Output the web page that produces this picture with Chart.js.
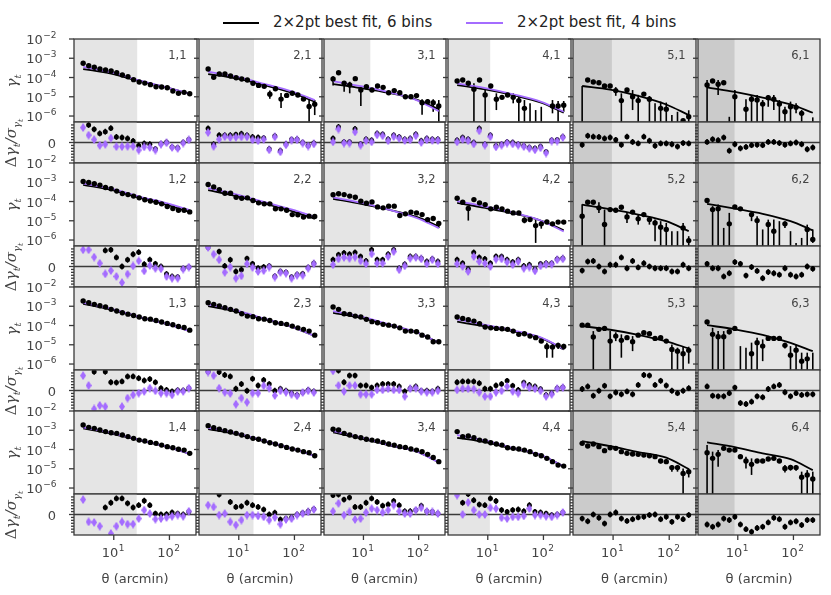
<!DOCTYPE html>
<html>
<head>
<meta charset="utf-8">
<script src="https://cdn.jsdelivr.net/npm/chart.js@4.4.0/dist/chart.umd.min.js"></script>
<style>
html, body { margin: 0; padding: 0; background: #fff; }
#fig { position: relative; width: 831px; height: 595px; overflow: hidden; font-family: "DejaVu Sans", sans-serif; color: #222; }
#fig canvas { position: absolute; }
.ylab { position: absolute; transform: translate(-50%, -50%) rotate(-90deg); white-space: nowrap; font: italic 15px "DejaVu Serif", serif; color: #444; }
.ylab sub { font-size: 10px; }
.leg-line { position: absolute; height: 2px; }
.leg-text { position: absolute; font-size: 15px; line-height: 20px; white-space: nowrap; color: #222; }
</style>
</head>
<body>
<div id="fig">
  <div class="leg-line" style="left:223px; top:21.5px; width:36px; background:#000;"></div>
  <div class="leg-text" style="left:273px; top:12px;">2×2pt best fit, 6 bins</div>
  <div class="leg-line" style="left:466px; top:21.5px; width:37px; background:#a46cff;"></div>
  <div class="leg-text" style="left:517px; top:12px;">2×2pt best fit, 4 bins</div>
</div>
<script>
// angular bins (arcmin), shared by every panel
const theta = [2.81, 3.53, 4.44, 5.59, 7.04, 8.86, 11.15, 14.04, 17.68, 22.25, 28.01, 35.27, 44.4, 55.9, 70.37, 88.59, 111.5, 140.4, 176.8, 222.5];
const modelTheta = [2.81, 8.86, 28.01, 88.59, 222.5];
const gammaTicks = [1e-2, 1e-3, 1e-4, 1e-5, 1e-6];
const gammaTickExp = ['−2', '−3', '−4', '−5', '−6'];
const thetaTicks = [10, 100];
const thetaTickExp = ['1', '2'];
// scale cut per lens bin (column)
const scaleCut = [25.8, 18.4, 13.1, 10.9, 9.5, 8.75];
const panelNames = ['1,1', '2,1', '3,1', '4,1', '5,1', '6,1',
                    '1,2', '2,2', '3,2', '4,2', '5,2', '6,2',
                    '1,3', '2,3', '3,3', '4,3', '5,3', '6,3',
                    '1,4', '2,4', '3,4', '4,4', '5,4', '6,4'];

// log10(gamma_t), null = negative (no marker)
const gammaLog = [
  [-3.26,-3.39,-3.47,-3.56,-3.61,-3.66,-3.75,-3.87,-3.96,-4.11,-4.23,-4.29,-4.37,-4.48,-4.49,-4.53,-4.70,-4.82,-4.77,-4.84],
  [-3.56,-3.99,-3.82,-3.82,-3.92,-4.01,-4.08,-4.13,-4.30,-4.41,-4.46,-4.87,-4.58,-5.12,-4.93,-4.82,-4.91,-5.12,-5.50,-5.39],
  [-4.08,-3.75,-4.30,-4.39,-4.06,-4.65,-4.48,-4.65,-4.44,-4.51,-4.79,-4.68,-4.79,-5.00,-5.00,-4.94,-5.31,-5.26,-5.31,-5.48],
  [-4.18,-4.13,-4.30,-4.61,-4.13,-4.91,-4.44,-5.13,-5.03,-4.91,-5.03,-5.20,-5.60,null,null,null,null,-5.48,-5.48,-5.44],
  [null,-4.13,-4.23,-4.27,-4.44,-4.44,-4.68,-5.20,-4.65,-5.00,-5.20,-4.86,-5.13,null,-5.60,-5.65,null,null,-6.24,-6.04],
  [-4.39,-4.18,-4.35,-4.27,null,-5.00,null,-5.65,-5.13,-5.17,-5.38,-5.05,-5.13,-5.38,-5.78,-5.52,-5.55,-5.86,null,null],
  [-2.96,-3.01,-3.08,-3.15,-3.27,-3.34,-3.46,-3.58,-3.64,-3.72,-3.81,-3.91,-3.97,-4.04,-4.12,-4.26,-4.36,-4.45,-4.45,-4.54],
  [-3.12,-3.24,-3.38,-3.57,-3.57,-3.78,-3.83,-3.81,-3.95,-4.07,-4.12,-4.12,-4.38,-4.38,-4.45,-4.68,-4.69,-4.81,-4.76,-4.78],
  [-3.65,-3.60,-3.64,-3.72,-3.78,-3.98,-4.09,-4.02,-4.28,-4.33,-4.24,-4.24,-4.73,-4.64,-4.55,-4.59,-4.68,-4.94,-4.88,-5.14],
  [-3.83,-4.04,-4.36,-3.90,-4.07,-4.16,-4.38,-4.30,-4.38,-4.50,-4.59,-4.59,-4.97,-4.94,-5.25,-5.16,-5.06,-5.16,-5.07,-5.07],
  [-4.76,-4.04,-4.04,-4.33,-5.19,-4.42,-4.45,-4.30,-4.80,-4.55,-4.90,-4.68,-4.94,-5.11,-5.33,-5.45,null,null,-5.37,-6.03],
  [-3.95,-4.42,-4.38,null,-5.16,-4.28,-4.38,null,-4.68,-4.99,null,-5.19,-5.54,null,-5.16,null,null,null,-5.45,-5.97],
  [-2.73,-2.82,-2.90,-2.97,-3.04,-3.16,-3.25,-3.34,-3.41,-3.48,-3.56,-3.65,-3.67,-3.74,-3.82,-3.89,-3.96,-4.05,-4.10,-4.24],
  [-2.82,-2.90,-2.99,-3.08,-3.16,-3.25,-3.39,-3.51,-3.54,-3.65,-3.67,-3.74,-3.86,-3.89,-3.94,-4.03,-4.12,-4.20,-4.29,-4.50],
  [-3.04,-3.16,-3.39,-3.42,-3.51,-3.56,-3.68,-3.80,-3.86,-3.94,-3.98,-4.03,-4.12,-4.29,-4.29,-4.32,-4.50,-4.60,-4.84,-4.84],
  [-3.56,-3.63,-3.70,-3.77,-3.91,-4.08,-4.12,-4.15,-4.17,-4.20,-4.29,-4.46,-4.43,-4.55,-4.63,-4.81,-5.10,-5.12,-5.03,-5.09],
  [-3.98,-3.98,-4.60,-4.20,-4.15,-4.81,-4.55,-4.77,-4.63,-4.84,-4.50,-4.37,-4.43,-4.67,-4.63,-4.81,-5.24,-5.33,-5.47,-5.29],
  [-3.82,-4.46,-4.58,-4.58,-4.32,-4.15,null,null,-5.47,-4.89,-5.07,-4.67,-4.67,-4.67,-5.03,-5.54,-5.28,-5.85,-5.73,null],
  [-2.73,-2.85,-2.90,-2.99,-3.07,-3.13,-3.16,-3.25,-3.33,-3.42,-3.51,-3.56,-3.63,-3.68,-3.77,-3.85,-3.91,-3.99,-4.03,-4.20],
  [-2.76,-2.87,-2.95,-3.02,-3.09,-3.16,-3.25,-3.33,-3.42,-3.47,-3.56,-3.65,-3.71,-3.80,-3.89,-3.97,-4.03,-4.11,-4.17,-4.32],
  [-2.95,-2.99,-3.16,-3.25,-3.33,-3.39,-3.47,-3.51,-3.56,-3.63,-3.71,-3.77,-3.85,-3.89,-3.97,-4.03,-4.11,-4.25,-4.41,-4.63],
  [-3.07,-3.33,-3.30,-3.39,-3.51,-3.56,-3.65,-3.71,-3.77,-3.91,-3.94,-3.97,-4.03,-4.11,-4.25,-4.32,-4.46,-4.63,-4.81,-4.86],
  [-3.68,-3.82,-3.71,-3.85,-4.06,-3.91,-3.94,-4.11,-4.20,-4.23,-4.25,-4.29,-4.32,-4.37,-4.60,-4.63,-4.94,-4.94,-5.24,-5.15],
  [-4.17,-4.46,-4.25,-3.94,-4.03,-4.03,-4.37,-4.60,-4.77,-4.60,-4.60,-4.49,-4.46,-4.60,-4.98,-4.93,-4.94,-5.44,-5.32,-5.53]
];

// visible error bars: [bin, log10 upper end, log10 lower end (null = below axis)]
const errorBars = [
  [],
  [[11,-4.68,-5.10],[13,-4.80,-5.58],[18,-5.17,null],[19,-5.17,-5.95]],
  [[0,-3.93,-4.42],[2,-4.19,-4.74],[3,-4.22,-4.82],[5,-4.44,-5.48],[16,-5.13,-5.94],[17,-5.12,-5.45],[18,-5.13,-5.78],[19,-5.17,null]],
  [[3,-4.30,null],[5,-4.65,null],[7,-4.82,-5.69],[10,-4.82,-5.34],[11,-4.99,null],[12,-5.17,null],[13,-5.34,null],[14,-5.69,null],[15,-5.52,null],[17,-5.17,-5.86],[18,-5.22,null],[19,-5.22,-5.78]],
  [[0,-4.44,null],[6,-4.50,-4.95],[7,-4.82,null],[9,-4.65,-5.69],[10,-4.90,null],[12,-4.96,null],[13,-5.34,null],[14,-5.25,null],[15,-5.30,null],[16,-5.95,null],[17,-5.78,null],[19,-5.70,null]],
  [[0,-4.13,null],[2,-4.13,-4.91],[4,-6.04,null],[5,-4.65,null],[7,-5.13,null],[8,-4.91,null],[9,-4.91,null],[10,-5.17,null],[11,-4.91,-5.52],[12,-4.91,-5.69],[13,-5.17,null],[14,-5.52,null],[15,-5.25,null],[16,-5.34,-5.86],[17,-5.69,null],[19,-6.07,null]],
  [],
  [],
  [[12,-4.62,-4.86],[19,-5.04,-5.38]],
  [[2,-4.24,-4.99],[12,-4.82,-5.13],[14,-4.94,-6.15],[15,-4.97,-5.41]],
  [[0,-4.14,null],[3,-4.04,-4.59],[4,-4.42,null],[8,-4.59,-5.11],[10,-4.68,-5.20],[12,-4.76,-5.20],[13,-4.94,-6.06],[14,-5.02,null],[15,-5.11,null],[16,-5.54,null],[17,-5.54,null],[18,-5.11,null],[19,-5.80,null]],
  [[1,-4.24,null],[2,-4.16,null],[3,-5.37,null],[4,-4.59,null],[8,-4.50,-5.02],[9,-4.76,null],[10,-5.45,null],[11,-4.94,null],[12,-4.94,null],[13,-5.02,null],[14,-5.02,-5.37],[15,-5.54,null],[16,-6.15,null],[17,-5.89,null],[18,-5.20,null],[19,-5.45,-6.15]],
  [],
  [],
  [],
  [[16,-4.89,-5.67],[17,-4.89,-5.67],[18,-4.89,-5.22],[19,-4.95,-5.25]],
  [[2,-4.29,null],[5,-4.29,null],[6,-4.35,-4.81],[7,-4.46,-5.67],[9,-4.55,-5.33],[16,-4.98,null],[17,-5.15,null],[18,-5.07,null],[19,-5.10,-5.98]],
  [[1,-4.12,null],[2,-4.29,null],[3,-4.29,null],[4,-4.24,-4.46],[6,-5.07,null],[7,-5.15,null],[8,-4.89,null],[9,-4.63,null],[10,-4.72,-5.85],[14,-4.90,-5.20],[15,-5.07,null],[16,-4.98,null],[17,-5.41,null],[18,-5.41,null],[19,-5.41,null]],
  [],
  [],
  [],
  [],
  [[1,-3.75,-3.90],[14,-4.50,-4.72],[15,-4.52,-4.75],[16,-4.80,-5.15],[17,-4.80,-5.15],[18,-4.98,null],[19,-4.98,-5.45]],
  [[0,-3.77,null],[1,-4.11,null],[2,-4.03,-4.89],[6,-4.25,-4.50],[7,-4.37,-4.98],[8,-4.46,-5.32],[14,-4.80,-5.20],[15,-4.80,-5.10],[16,-4.80,-5.10],[17,-5.15,null],[18,-5.07,null],[19,-5.15,null]]
];

// best-fit model curves, log10(gamma_t) at modelTheta
const model6Log = [
  [-3.56,-3.80,-4.18,-4.53,-4.85], [-3.82,-4.05,-4.40,-4.80,-5.26], [-4.34,-4.55,-4.80,-5.15,-5.65],
  [-4.39,-4.62,-4.92,-5.30,-5.83], [-4.44,-4.63,-4.95,-5.40,-5.95], [-4.51,-4.75,-5.05,-5.40,-5.83],
  [-3.13,-3.40,-3.80,-4.18,-4.55], [-3.41,-3.72,-4.10,-4.50,-4.90], [-3.86,-4.12,-4.42,-4.80,-5.28],
  [-4.07,-4.33,-4.62,-5.00,-5.49], [-4.16,-4.40,-4.68,-5.02,-5.54], [-4.12,-4.37,-4.64,-5.02,-5.50],
  [-2.87,-3.18,-3.57,-3.93,-4.29], [-2.99,-3.28,-3.67,-4.08,-4.55], [-3.34,-3.60,-3.97,-4.36,-4.89],
  [-3.80,-4.05,-4.30,-4.65,-5.24], [-4.03,-4.22,-4.48,-4.82,-5.19], [-3.98,-4.20,-4.48,-4.90,-5.33],
  [-2.90,-3.17,-3.52,-3.86,-4.23], [-2.94,-3.20,-3.57,-3.95,-4.33], [-3.11,-3.42,-3.78,-4.10,-4.67],
  [-3.39,-3.62,-3.97,-4.30,-4.89], [-3.56,-3.83,-4.13,-4.42,-5.01], [-3.63,-3.88,-4.20,-4.50,-5.07]
];
const model4Log = [
  [-3.45,-3.72,-4.15,-4.52,-4.84], [-3.70,-3.96,-4.33,-4.73,-5.17], [-4.19,-4.45,-4.76,-5.17,-5.75],
  [-4.30,-4.55,-4.87,-5.26,-5.78], null, null,
  [-3.06,-3.33,-3.74,-4.10,-4.45], [-3.31,-3.63,-4.02,-4.42,-4.80], [-3.78,-4.06,-4.42,-4.85,-5.38],
  [-3.98,-4.26,-4.58,-5.00,-5.56], null, null,
  [-2.82,-3.13,-3.55,-3.93,-4.29], [-2.90,-3.22,-3.64,-4.07,-4.55], [-3.25,-3.53,-3.94,-4.35,-4.89],
  [-3.68,-3.97,-4.26,-4.63,-5.22], null, null,
  [-2.85,-3.13,-3.50,-3.86,-4.23], [-2.87,-3.15,-3.55,-3.95,-4.33], [-3.04,-3.37,-3.76,-4.10,-4.67],
  [-3.25,-3.53,-3.93,-4.29,-4.89], null, null
];

// residuals (data - model) / sigma, null = off the panel
const resid6 = [
  [null,6.0,4.5,3.1,3.7,4.9,1.9,1.7,1.4,0.5,-1.0,-0.3,-0.6,-2.2,-0.4,0.1,-1.5,-1.8,0.0,1.0],
  [4.8,-0.6,2.5,2.5,2.5,2.7,3.0,2.5,1.9,1.7,1.5,-2.2,2.2,-2.8,-0.5,1.0,1.1,0.0,-1.0,-0.2],
  [1.4,5.3,0.2,0.2,4.6,-0.5,1.1,0.8,3.1,2.8,1.1,2.5,1.9,1.1,1.4,2.8,0.6,1.4,1.1,1.1],
  [0.8,1.7,1.1,0.0,4.8,-0.6,2.5,-1.1,-0.6,0.2,0.0,-0.6,-1.1,-1.7,-2.0,-1.4,-3.2,0.8,0.9,2.0],
  [-0.8,2.3,2.0,1.9,1.4,1.7,0.9,-0.8,2.0,0.2,-0.3,2.0,0.6,-1.1,-0.3,-0.3,-0.6,-1.4,-0.2,-0.3],
  [0.2,1.1,0.8,1.7,-2.8,-0.6,-2.0,-1.5,-0.9,-0.8,-0.9,0.2,0.2,-0.2,-0.8,-0.3,0.0,-0.6,-2.3,-1.7],
  [null,null,null,null,5.5,5.7,3.1,0.0,2.3,4.2,4.9,0.8,2.3,0.9,0.0,-2.6,-3.4,-3.6,-0.7,-0.2],
  [6.6,null,5.1,0.2,2.3,-1.7,-1.1,2.7,0.9,-0.6,-0.2,0.2,-3.3,-1.7,-2.0,-3.6,-2.7,-2.5,-0.3,1.1],
  [2.3,4.0,4.6,4.2,4.8,3.4,1.9,5.7,2.3,2.3,4.2,5.7,-0.6,0.8,3.4,3.4,2.8,1.7,2.6,1.7],
  [2.3,1.1,-0.9,4.8,3.1,2.6,1.1,3.4,3.4,2.3,1.5,2.3,0.2,0.6,-0.9,0.9,1.1,1.1,2.6,2.8],
  [-1.4,1.7,1.9,0.0,-1.7,0.6,0.6,3.1,-0.6,1.9,-0.3,1.1,0.0,-0.6,-0.6,-0.6,-1.7,-1.7,0.6,-0.6],
  [0.9,-0.6,-0.6,-3.4,-2.3,1.5,0.9,-3.1,-0.2,-1.5,-4.0,-1.9,-2.3,-2.8,-0.6,-2.8,-3.4,-2.8,0.0,-0.8],
  [null,null,6.4,null,6.4,2.8,2.7,3.1,4.8,4.8,4.2,3.4,3.9,2.8,0.8,0.2,-0.3,0.1,0.0,0.8],
  [6.5,null,6.3,5.3,4.8,0.6,2.2,-0.1,4.0,1.7,3.6,2.2,-0.1,0.6,-0.1,-0.9,-1.5,-0.6,0.2,-0.3],
  [null,6.8,2.8,5.1,5.1,1.7,1.7,1.0,1.7,2.2,2.2,2.2,1.4,-0.3,0.8,1.4,-0.1,-0.1,-0.3,0.6],
  [2.8,3.1,3.1,3.1,2.5,0.6,0.6,1.7,2.2,3.3,1.6,0.2,2.7,1.9,1.4,0.5,-1.5,-0.9,0.8,1.1],
  [0.5,1.4,-1.8,-0.1,1.6,-2.0,-0.7,-1.3,-0.3,-1.3,1.9,5.3,5.1,1.9,3.3,1.7,-0.1,-0.9,-0.1,0.8],
  [1.4,-1.8,-2.0,-2.0,-0.9,1.0,-4.3,-4.6,-3.8,-2.0,-2.3,0.5,1.4,1.9,-0.6,-2.0,-0.9,-1.5,-1.3,-1.3],
  [null,null,null,null,2.4,4.0,5.5,5.5,3.8,2.4,3.2,4.7,3.2,0.3,0.0,0.1,0.7,0.3,0.0,0.9],
  [null,null,6.8,null,4.3,2.6,2.8,4.0,3.2,2.6,1.7,0.0,0.6,-1.7,-1.4,-1.0,0.0,0.5,1.1,1.9],
  [6.6,6.8,5.1,5.8,2.6,2.6,4.0,5.5,4.3,3.0,3.4,4.6,3.2,1.1,1.1,1.5,3.0,1.1,0.9,0.3],
  [null,4.0,7.0,4.9,3.4,3.2,5.5,4.6,1.5,0.9,1.5,1.7,1.1,3.2,0.9,0.7,0.3,-0.2,0.0,0.7],
  [-1.4,-2.3,0.0,-1.1,-3.1,0.0,0.7,-1.4,-2.2,-1.6,-1.0,-0.8,-0.2,0.0,-1.6,-0.8,-2.5,-0.8,-1.6,-0.2],
  [-3.4,-4.2,-3.4,-1.4,-1.9,-0.8,-3.4,-5.0,-5.9,-4.6,-4.2,-2.7,-1.1,-1.6,-4.2,-2.7,-2.3,-3.6,-1.9,-1.9]
];
const resid4 = [
  [5.1,2.5,1.0,-1.0,-0.6,1.5,-1.4,-1.4,-1.3,-1.3,-2.6,-1.5,-1.7,-2.6,-0.6,-0.1,-1.7,-2.0,-0.2,0.9],
  [3.4,-1.3,1.1,2.0,1.7,1.8,1.9,1.9,0.9,0.6,1.1,-2.5,1.9,-3.2,-0.8,0.8,0.9,-0.2,-1.2,-0.5],
  [0.2,4.6,-0.2,-0.2,3.6,-0.9,0.6,0.2,2.6,2.3,0.6,2.0,1.4,0.7,0.9,2.3,0.0,0.9,0.7,0.7],
  [0.2,1.1,0.6,-0.5,4.0,-0.9,2.0,-1.5,-0.9,-0.2,-0.5,-0.9,-1.4,-2.0,-2.5,-1.8,-3.6,0.5,0.5,1.7],
  null, null,
  [5.7,5.7,3.2,1.1,-2.5,-1.4,-3.4,-5.5,-2.6,0.2,1.9,-1.5,0.3,-0.6,-0.8,-3.4,-4.0,-4.0,-0.9,-0.2],
  [6.5,4.2,2.3,-2.0,-0.2,-4.0,-3.2,0.9,-0.3,-1.7,-1.4,-0.2,-3.6,-2.0,-2.3,-4.0,-3.0,-3.0,-0.6,0.9],
  [0.6,2.6,3.1,2.8,3.2,1.9,0.9,4.3,1.1,1.1,3.4,5.1,-1.1,0.2,2.8,3.1,2.6,0.9,2.3,0.9],
  [0.9,0.0,-1.7,3.4,1.7,1.1,0.0,2.5,2.6,1.5,0.6,1.7,-0.6,-0.2,-1.5,0.2,0.7,0.8,2.3,2.6],
  null, null,
  [5.1,1.7,-6.3,-5.1,-5.5,null,null,-5.5,-2.6,-1.5,-0.9,-0.3,0.8,-0.1,-0.9,-0.9,-1.5,-0.3,-0.3,0.8],
  [6.3,5.1,0.8,-0.6,-1.0,-4.7,-2.6,-4.0,-0.9,-0.9,1.6,0.8,-1.7,-0.1,-0.6,-1.3,-1.8,-0.7,-0.1,-0.7],
  [6.7,1.7,-0.3,1.7,1.7,-1.3,-1.3,-1.3,0.2,0.2,0.6,0.2,0.2,-2.0,0.6,0.8,-0.3,-0.6,-0.6,-0.1],
  [0.2,0.6,0.6,0.5,-0.6,-2.0,-2.0,-0.6,-0.1,1.4,-0.3,-0.9,1.9,1.0,0.6,-0.1,-2.0,-1.3,0.6,1.0],
  null, null,
  [5.1,-2.5,-2.7,-4.0,null,-6.5,-4.0,-2.5,-3.3,-3.3,-1.4,1.5,0.3,-1.6,-1.4,-1.0,-0.6,-0.2,-0.6,1.1],
  [3.2,2.6,-0.2,0.3,-2.5,-3.6,-1.9,-0.2,-0.2,-0.5,-0.8,-1.9,-1.0,-3.3,-1.7,-1.4,-0.2,0.3,0.9,1.7],
  [1.1,3.8,-0.2,0.9,-1.7,-1.4,0.7,2.0,1.5,0.7,1.5,3.2,1.1,0.3,0.3,1.5,2.3,1.1,0.9,0.3],
  [6.6,0.0,4.1,1.5,0.0,0.0,2.3,2.0,-1.1,-1.4,-0.8,-0.8,-0.5,2.0,-0.2,-0.2,-0.6,-0.8,-0.2,0.7],
  null, null
];

const colX = [74, 199, 324, 448, 573, 698, 822];
const rowTop = [39, 163, 287, 411];
const MAIN_H = 83, RES_H = 41;
const LIGHT = '#e5e5e5', DARK = '#cbcbcb', PURPLE = '#a46cff', INK = '#3a3a3a';
const FONT = '"DejaVu Sans", sans-serif';

const fig = document.getElementById('fig');

function thinDiamond(color) {
  const c = document.createElement('canvas');
  c.width = 6; c.height = 9;
  const g = c.getContext('2d');
  g.fillStyle = color;
  g.beginPath();
  g.moveTo(3, 0); g.lineTo(6, 4.5); g.lineTo(3, 9); g.lineTo(0, 4.5);
  g.closePath(); g.fill();
  return c;
}
const diamond = thinDiamond(PURPLE);

function seg(ctx, x1, y1, x2, y2) {
  ctx.beginPath(); ctx.moveTo(x1, y1); ctx.lineTo(x2, y2); ctx.stroke();
}

function drawPow(ctx, exp, x, y, align) {
  ctx.textAlign = 'left';
  ctx.textBaseline = 'alphabetic';
  ctx.font = '13px ' + FONT;
  const wb = ctx.measureText('10').width;
  ctx.font = '9px ' + FONT;
  const we = ctx.measureText(exp).width;
  const x0 = align === 'right' ? x - wb - we - 0.5 : x - (wb + we) / 2;
  ctx.font = '13px ' + FONT;
  ctx.fillText('10', x0, y);
  ctx.font = '9px ' + FONT;
  ctx.fillText(exp, x0 + wb + 0.5, y - 6);
}

function panelPlugin(p, kind) {
  const c = p % 6, r = Math.floor(p / 6);
  return {
    id: 'panel' + kind + p,
    beforeDraw(chart) {
      const { ctx, chartArea: a, scales: { x } } = chart;
      ctx.save();
      if (c >= 4) {
        ctx.fillStyle = LIGHT;
        ctx.fillRect(a.left, a.top, a.width, a.height);
      }
      const xc = x.getPixelForValue(scaleCut[c]);
      ctx.fillStyle = c >= 4 ? DARK : LIGHT;
      ctx.fillRect(a.left, a.top, xc - a.left, a.height);
      ctx.restore();
    },
    beforeDatasetsDraw(chart) {
      const { ctx, chartArea: a, scales: { x, y } } = chart;
      ctx.save();
      ctx.beginPath(); ctx.rect(a.left, a.top, a.width, a.height); ctx.clip();
      if (kind === 'res') {
        ctx.strokeStyle = INK; ctx.lineWidth = 1.3;
        const y0 = y.getPixelForValue(0);
        seg(ctx, a.left, y0, a.right, y0);
        [[resid6[p], '#000'], [resid4[p], PURPLE]].forEach(([vals, col]) => {
          if (!vals) return;
          ctx.strokeStyle = col; ctx.lineWidth = 1.5;
          vals.forEach((v, i) => {
            if (v === null) return;
            const px = x.getPixelForValue(theta[i]);
            seg(ctx, px, y.getPixelForValue(v + 1), px, y.getPixelForValue(v - 1));
          });
        });
      } else {
        ctx.strokeStyle = '#000'; ctx.lineWidth = 1.6;
        errorBars[p].forEach(([i, hi, lo]) => {
          const px = x.getPixelForValue(theta[i]);
          const yb = lo === null ? a.bottom + 2 : y.getPixelForValue(Math.pow(10, lo));
          seg(ctx, px, y.getPixelForValue(Math.pow(10, hi)), px, yb);
        });
      }
      ctx.restore();
    },
    afterDraw(chart) {
      const { ctx, chartArea: a, scales: { x, y } } = chart;
      ctx.save();
      ctx.strokeStyle = INK; ctx.lineWidth = 1.3;
      ctx.strokeRect(a.left, a.top, a.width, a.height);
      ctx.fillStyle = '#444';
      if (kind === 'main') {
        gammaTicks.forEach((v, k) => {
          const py = y.getPixelForValue(v);
          seg(ctx, a.left - 5, py, a.left, py);
          if (c === 0) drawPow(ctx, gammaTickExp[k], a.left - 17.5, py + 5, 'right');
        });
        ctx.font = '11.5px ' + FONT;
        ctx.textAlign = 'right';
        ctx.fillText(panelNames[p], a.right - 10.5, a.top + 19.5);
      } else {
        for (let t = -6; t <= 6; t++) {
          const py = y.getPixelForValue(t);
          seg(ctx, a.left - (t === 0 ? 5 : 3), py, a.left, py);
        }
        if (c === 0) {
          ctx.font = '13px ' + FONT;
          ctx.textAlign = 'right';
          ctx.fillText('0', a.left - 18, y.getPixelForValue(0) + 5);
        }
        if (r === 3) {
          thetaTicks.forEach((v, k) => {
            const px = x.getPixelForValue(v);
            seg(ctx, px, a.bottom, px, a.bottom + 5);
            drawPow(ctx, thetaTickExp[k], px - 1, a.bottom + 22, 'center');
          });
          ctx.font = '13px ' + FONT;
          ctx.textAlign = 'center';
          ctx.fillText('θ (arcmin)', (a.left + a.right) / 2, a.bottom + 48);
        }
      }
      ctx.restore();
    }
  };
}

function makePanel(p, kind) {
  const c = p % 6, r = Math.floor(p / 6);
  const left = colX[c], w = colX[c + 1] - colX[c];
  const top = kind === 'main' ? rowTop[r] : rowTop[r] + MAIN_H;
  const h = kind === 'main' ? MAIN_H : RES_H;
  const pad = { left: c === 0 ? 74 : 8, top: 10, right: 2, bottom: (kind === 'res' && r === 3) ? 62 : 8 };
  const cv = document.createElement('canvas');
  const W = w + pad.left + pad.right, H = h + pad.top + pad.bottom;
  cv.width = W; cv.height = H;
  cv.style.left = (left - pad.left) + 'px';
  cv.style.top = (top - pad.top) + 'px';
  cv.style.width = W + 'px';
  cv.style.height = H + 'px';
  fig.appendChild(cv);

  const datasets = [];
  let yScale;
  if (kind === 'main') {
    datasets.push({
      data: gammaLog[p].map((v, i) => ({ x: theta[i], y: v === null ? null : Math.pow(10, v) })),
      pointRadius: 2.7, backgroundColor: '#000', borderWidth: 0, clip: 0
    });
    if (model4Log[p]) {
      datasets.push({
        type: 'line', data: model4Log[p].map((v, i) => ({ x: modelTheta[i], y: Math.pow(10, v) })),
        borderColor: PURPLE, borderWidth: 1.8, pointRadius: 0, cubicInterpolationMode: 'monotone', clip: 0
      });
    }
    datasets.push({
      type: 'line', data: model6Log[p].map((v, i) => ({ x: modelTheta[i], y: Math.pow(10, v) })),
      borderColor: '#000', borderWidth: 1.8, pointRadius: 0, cubicInterpolationMode: 'monotone', clip: 0
    });
    yScale = { type: 'logarithmic', min: Math.pow(10, -6.31), max: 1e-2, display: false, bounds: 'data' };
  } else {
    if (resid4[p]) {
      datasets.push({
        data: resid4[p].map((v, i) => ({ x: theta[i], y: v })),
        pointStyle: diamond, pointRadius: 3, clip: 0
      });
    }
    datasets.push({
      data: resid6[p].map((v, i) => ({ x: theta[i], y: v })),
      pointRadius: 2.5, backgroundColor: '#000', borderWidth: 0, clip: 0
    });
    yScale = { type: 'linear', min: -7, max: 7, display: false };
  }

  new Chart(cv.getContext('2d'), {
    type: 'scatter',
    data: { datasets },
    options: {
      responsive: false,
      animation: false,
      events: [],
      layout: { padding: pad },
      plugins: { legend: { display: false }, tooltip: { enabled: false } },
      scales: {
        x: { type: 'logarithmic', min: 1.93, max: 300, display: false, bounds: 'data' },
        y: yScale
      }
    },
    plugins: [panelPlugin(p, kind)]
  });
}

for (let p = 0; p < 24; p++) {
  makePanel(p, 'main');
  makePanel(p, 'res');
}

// rotated axis titles
rowTop.forEach(t => {
  const g = document.createElement('div');
  g.className = 'ylab';
  g.style.left = '13px';
  g.style.top = (t + MAIN_H / 2) + 'px';
  g.innerHTML = 'γ<sub>t</sub>';
  fig.appendChild(g);
  const d = document.createElement('div');
  d.className = 'ylab';
  d.style.left = '13px';
  d.style.top = (t + MAIN_H + RES_H / 2) + 'px';
  d.innerHTML = '<span style="font-style:normal">Δ</span>γ<sub>t</sub>/σ<sub>γ<sub style="font-size:8px">t</sub></sub>';
  fig.appendChild(d);
});
</script>
</body>
</html>
